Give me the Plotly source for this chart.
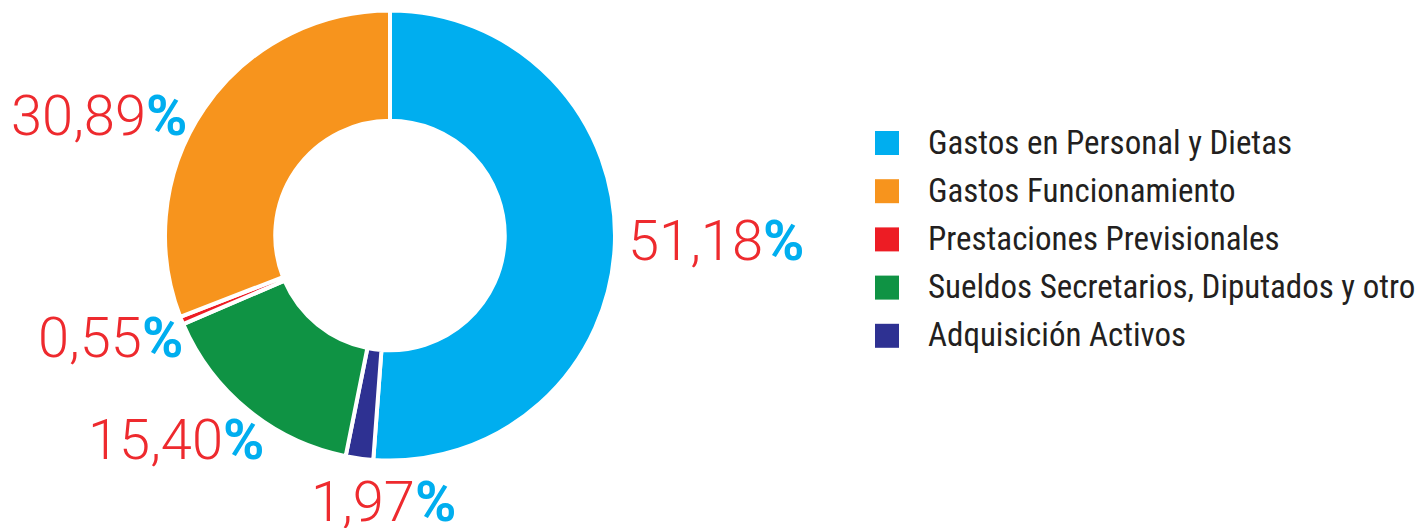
import math
import plotly.graph_objects as go

# Budget distribution (percent of total)
categories = [
    "Gastos en Personal y Dietas",
    "Gastos Funcionamiento",
    "Prestaciones Previsionales",
    "Sueldos Secretarios, Diputados y otros",
    "Adquisición Activos",
]
shares = [51.18, 30.89, 0.55, 15.40, 1.97]
colors = ["#00AEEF", "#F7941D", "#ED1C24", "#0F9344", "#2E3192"]

# order in which the slices run clockwise from 12 o'clock
draw_order = [0, 4, 3, 2, 1]

W, H = 1416, 528
NUM_RED = "#EE2A2E"
PCT_BLUE = "#00AEEF"
LABEL_SIZE = 56

labels_drawn = [categories[i] for i in draw_order]
values_drawn = [shares[i] for i in draw_order]
colors_drawn = [colors[i] for i in draw_order]

# donut placement in pixels
cx, cy, r = 390, 235.5, 225

fig = go.Figure(
    go.Pie(
        labels=labels_drawn,
        values=values_drawn,
        sort=False,
        direction="clockwise",
        rotation=0,
        hole=0.51,
        marker=dict(colors=colors_drawn, line=dict(color="white", width=4)),
        textinfo="none",
        automargin=False,
        showlegend=False,
        hoverinfo="label+percent",
        domain=dict(
            x=[(cx - r) / W, (cx + r) / W],
            y=[(H - cy - r) / H, (H - cy + r) / H],
        ),
    )
)

# percentage labels placed outside each slice, along its mid angle
label_radius = r + 11
label_nudge = {0: (6, -4), 1: (-27, 30), 2: (4, 3), 3: (-12, 0), 4: (35, 5)}  # hand adjustments (px)
total = sum(shares)
cum = 0.0
for idx in draw_order:
    v = shares[idx]
    mid = math.radians((cum + v / 2) / total * 360)
    cum += v
    ux, uy = math.sin(mid), -math.cos(mid)
    num = f"{v:.2f}".replace(".", ",")
    half_w = 0.25 * LABEL_SIZE * (len(num) + 1)
    half_h = 0.5 * LABEL_SIZE
    nx, ny = label_nudge.get(idx, (0, 0))
    px = cx + label_radius * ux + half_w * ux + nx
    py = cy + label_radius * uy + half_h * uy + ny
    fig.add_annotation(
        xref="paper", yref="paper",
        x=px / W, y=1 - py / H,
        xanchor="center", yanchor="middle",
        showarrow=False,
        text=(
            f"<span style='color:{NUM_RED}'>{num}</span>"
            f"<span style='color:{PCT_BLUE}'><b>%</b></span>"
        ),
        font=dict(family="Roboto", size=LABEL_SIZE, weight=300, color=NUM_RED),
    )

# legend: large square swatches with condensed labels
leg_x0, leg_y0, leg_dy, sq = 875, 143, 48.2, 24
for k, (name, col) in enumerate(zip(categories, colors)):
    yc = leg_y0 + k * leg_dy
    fig.add_shape(
        type="rect", xref="paper", yref="paper",
        x0=leg_x0 / W, x1=(leg_x0 + sq) / W,
        y0=1 - (yc + sq / 2) / H, y1=1 - (yc - sq / 2) / H,
        fillcolor=col, line=dict(width=0),
    )
    fig.add_annotation(
        xref="paper", yref="paper",
        x=926 / W, y=1 - (yc - 1) / H,
        xanchor="left", yanchor="middle",
        text=name, showarrow=False,
        font=dict(family="Roboto Condensed", size=33, color="#231F20"),
    )

fig.update_layout(
    width=W, height=H,
    margin=dict(l=0, r=0, t=0, b=0),
    paper_bgcolor="white",
    plot_bgcolor="white",
)

fig.write_html("out.html")
